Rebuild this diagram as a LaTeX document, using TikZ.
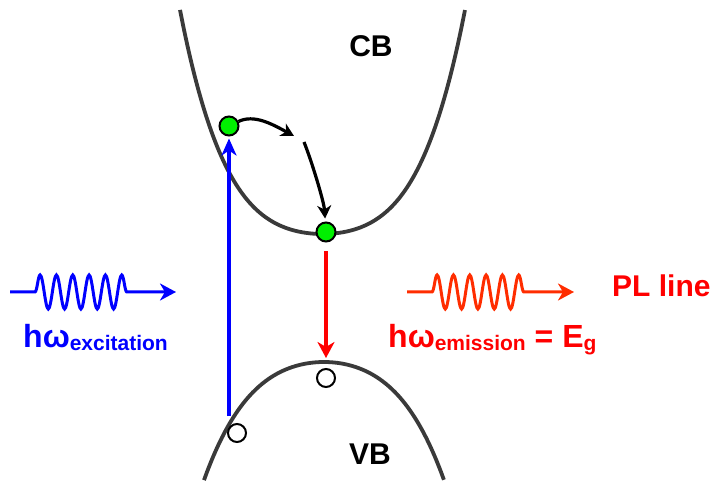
\documentclass[tikz,border=0pt]{standalone}
\usepackage{fontspec}
\setmainfont{Liberation Sans}
\usetikzlibrary{arrows.meta,decorations.pathmorphing}
\definecolor{bandgray}{RGB}{58,58,58}
\definecolor{plred}{RGB}{255,45,0}
\definecolor{elecgreen}{RGB}{0,240,0}
\tikzset{
  band/.style={draw=bandgray,line width=3.8pt},
  elec/.style={circle,draw,line width=2pt,fill=elecgreen,minimum size=19pt,inner sep=0pt},
  hole/.style={circle,draw,line width=2pt,fill=white,minimum size=18pt,inner sep=0pt},
  photon/.style={line width=3pt,-{Stealth[length=16pt,width=17pt,inset=5pt]},
    decorate,decoration={snake,amplitude=17pt,segment length=16.33pt,pre length=25pt,post length=42pt}},
  relax/.style={line width=3.2pt,-{Stealth[length=13pt,width=14pt,inset=4pt]}},
  big/.style={font=\bfseries\fontsize{30}{32}\selectfont},
}
\newcommand{\sub}[1]{\raisebox{-2pt}{\fontsize{21}{22}\selectfont #1}}

\begin{document}
\begin{tikzpicture}[x=1pt,y=-1pt]
  \useasboundingbox (0,0) rectangle (718,481);
  % bands
  \draw[band] plot[domain=-1.425:1.425,samples=80,smooth] ({322.5+100*\x},{234-40.7*\x*\x-34.3*\x*\x*\x*\x});
  \draw[band] plot[domain=-1.2:1.2,samples=80,smooth] ({324+100*\x},{362+47.9*\x*\x+23.7*\x*\x*\x*\x});
  \node[big] (cb) at (371,46) {CB};
  \node[big] (vb) at (370,454) {VB};
  % carriers
  \node[elec] (e1) at (229,126) {};
  \node[elec] (e2) at (326,232) {};
  \node[hole] (h1) at (237,433) {};
  \node[hole] (h2) at (326,378) {};
  \coordinate (pump) at (229,416);
  \coordinate (k1) at (294,136);
  \coordinate (k2) at (304,142);
  \coordinate (vbtop) at (326,358);
  % transitions
  \draw[blue,line width=4pt,-{Stealth[length=17pt,width=15pt,inset=5pt]},shorten >=2pt] (pump) -- (e1);
  \draw[relax] (e1) .. controls +(25,-12) and +(-22,-12) .. (k1);
  \draw[relax,shorten >=3pt] (k2) .. controls +(8,20) and +(-2,-30) .. (e2);
  \draw[red,line width=3.2pt,-{Stealth[length=16pt,width=17pt,inset=5pt]},shorten <=9pt] (e2) -- (vbtop);
  % photons
  \coordinate (exA) at (10,292);
  \coordinate (exB) at (176,292);
  \coordinate (plA) at (407,292);
  \coordinate (plB) at (574,292);
  \draw[photon,blue] (exA) -- (exB);
  \draw[photon,plred] (plA) -- (plB);
  \node[big,anchor=base west,inner sep=0pt,text=blue,font=\bfseries\fontsize{32}{34}\selectfont] (exc) at (23,348) {hω\sub{excitation}};
  \node[big,anchor=base west,inner sep=0pt,text=red,font=\bfseries\fontsize{32}{34}\selectfont] (emi) at (388,348) {hω\sub{emission} = E\sub{g}};
  \node[big,anchor=base west,inner sep=0pt,text=red] (pl) at (612,297) {PL line};
\end{tikzpicture}
\end{document}
